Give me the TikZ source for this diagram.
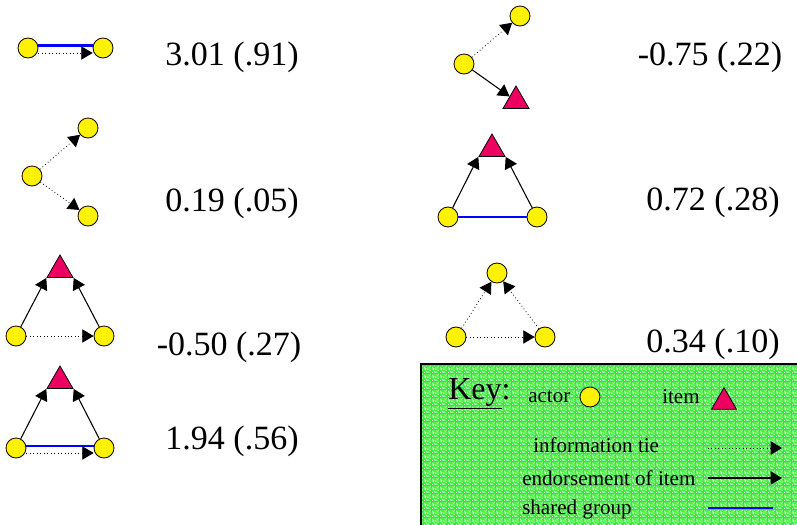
\documentclass[tikz,border=0pt]{standalone}
\usepackage{fontspec}
\setmainfont{Liberation Serif}
\usetikzlibrary{shapes.geometric,arrows.meta,patterns}
\definecolor{itemred}{RGB}{236,0,96}
\definecolor{keygreen}{RGB}{40,236,40}

% speckled texture for the key box
\pgfdeclarepatternformonly{speckle}{\pgfqpoint{0pt}{0pt}}{\pgfqpoint{6pt}{6pt}}{\pgfqpoint{6pt}{6pt}}{
  \foreach \i/\j in {0/0,2/1,5/0,7/2,1/3,4/3,6/4,3/5,0/6,5/6,2/7,7/7,4/1,1/5,6/2,3/0,0/4,1/4,3/4,5/4,7/4,6/6,2/2}{
    \pgfpathrectangle{\pgfpoint{\i*0.75pt}{\j*0.75pt}}{\pgfqpoint{0.75pt}{0.75pt}}
  }
  \pgfusepath{fill}
}

\begin{document}
\begin{tikzpicture}[x=0.75pt,y=-0.75pt]
    % Define styles for actors, items and ties
    \tikzstyle{actor} = [draw, circle, fill=yellow, minimum size=15pt, inner sep=0pt, line width=0.6pt]
    \tikzstyle{item} = [draw, regular polygon, regular polygon sides=3, fill=itemred, minimum size=22.5pt, inner sep=0pt, line width=0.6pt]
    \tikzstyle{info} = [dotted, line width=0.6pt, -{Triangle[length=8.5pt,width=10pt]}]
    \tikzstyle{endorse} = [line width=0.8pt, -{Triangle[length=8.5pt,width=10pt]}]
    \tikzstyle{group} = [blue, line width=2.2pt]
    \tikzstyle{value} = [font=\fontsize{25.5}{30}\selectfont, inner sep=0pt]
    \tikzstyle{keytext} = [font=\fontsize{15.8}{19}\selectfont, inner sep=0pt, anchor=west]

    \useasboundingbox (0,0) rectangle (797,525);

    % Left column
    \node(a1)[actor] at (28,48) {};
    \node(b1)[actor] at (103,48) {};
    \draw[group] ([yshift=2pt]a1.east) -- ([yshift=2pt]b1.west);
    \draw[info] ([yshift=-3.75pt]a1.east) -- ([yshift=-3.75pt]b1.west);
    \node(v1)[value] at (232,57) {3.01 (.91)};

    \node(a2)[actor] at (32,176) {};
    \node(b2)[actor] at (88,128) {};
    \node(c2)[actor] at (88,216) {};
    \draw[info] (a2) -- (b2);
    \draw[info] (a2) -- (c2);
    \node(v2)[value] at (232,203) {0.19 (.05)};

    \node(t3)[item] at (60,270) {};
    \node(a3)[actor] at (16,336) {};
    \node(b3)[actor] at (104,336) {};
    \draw[endorse] (a3) -- (t3.corner 2);
    \draw[endorse] (b3) -- (t3.corner 3);
    \draw[info] (a3) -- (b3);
    \node(v3)[value] at (229,347) {-0.50 (.27)};

    \node(t4)[item] at (60,381) {};
    \node(a4)[actor] at (16,448) {};
    \node(b4)[actor] at (104,448) {};
    \draw[endorse] (a4) -- (t4.corner 2);
    \draw[endorse] (b4) -- (t4.corner 3);
    \draw[group] ([yshift=1.5pt]a4.east) -- ([yshift=1.5pt]b4.west);
    \draw[info] ([yshift=-3.75pt]a4.east) -- ([yshift=-3.75pt]b4.west);
    \node(v4)[value] at (232,441) {1.94 (.56)};

    % Right column
    \node(a5)[actor] at (464,64) {};
    \node(b5)[actor] at (520,16) {};
    \node(t5)[item] at (516,101) {};
    \draw[info] (a5) -- (b5);
    \draw[endorse] (a5) -- (t5);
    \node(v5)[value] at (710,57) {-0.75 (.22)};

    \node(t6)[item] at (492,149) {};
    \node(a6)[actor] at (448,217) {};
    \node(b6)[actor] at (537,217) {};
    \draw[endorse] (a6) -- (t6.corner 2);
    \draw[endorse] (b6) -- (t6.corner 3);
    \draw[group] (a6) -- (b6);
    \node(v6)[value] at (713,202) {0.72 (.28)};

    \node(a7)[actor] at (497,273) {};
    \node(b7)[actor] at (456,337) {};
    \node(c7)[actor] at (545,337) {};
    \draw[info] (b7) -- (a7);
    \draw[info] (c7) -- (a7);
    \draw[info] (b7) -- (c7);
    \node(v7)[value] at (713,344) {0.34 (.10)};

    % Key box
    \fill[keygreen] (421,364) rectangle (800,528);
    \fill[pattern=speckle, pattern color=white!85!keygreen] (421,364) rectangle (800,528);
    \draw[line width=0.8pt] (421,528) -- (421,364) -- (800,364);

    \node(key)[anchor=west, inner sep=0pt, font=\fontsize{24}{28}\selectfont] at (448,394) {\underline{Key}:};
    \node(actortext)[keytext] at (528,397) {actor};
    \node(actorkey)[actor] at (590,397) {};
    \node(itemtext)[keytext] at (662,397) {item};
    \node(itemkey)[item, minimum size=21.5pt] at (724,402) {};

    \node(infotext)[keytext] at (533,445) {information tie};
    \coordinate(info1) at (708,448);
    \coordinate(info2) at (782,448);
    \draw[info] (info1) -- (info2);

    \node(endorsetext)[keytext] at (522,478) {endorsement of item};
    \coordinate(endorse1) at (708,478);
    \coordinate(endorse2) at (782,478);
    \draw[endorse] (endorse1) -- (endorse2);

    \node(grouptext)[keytext] at (522,509) {shared group};
    \coordinate(group1) at (708,508);
    \coordinate(group2) at (773,508);
    \draw[group] (group1) -- (group2);
\end{tikzpicture}
\end{document}
